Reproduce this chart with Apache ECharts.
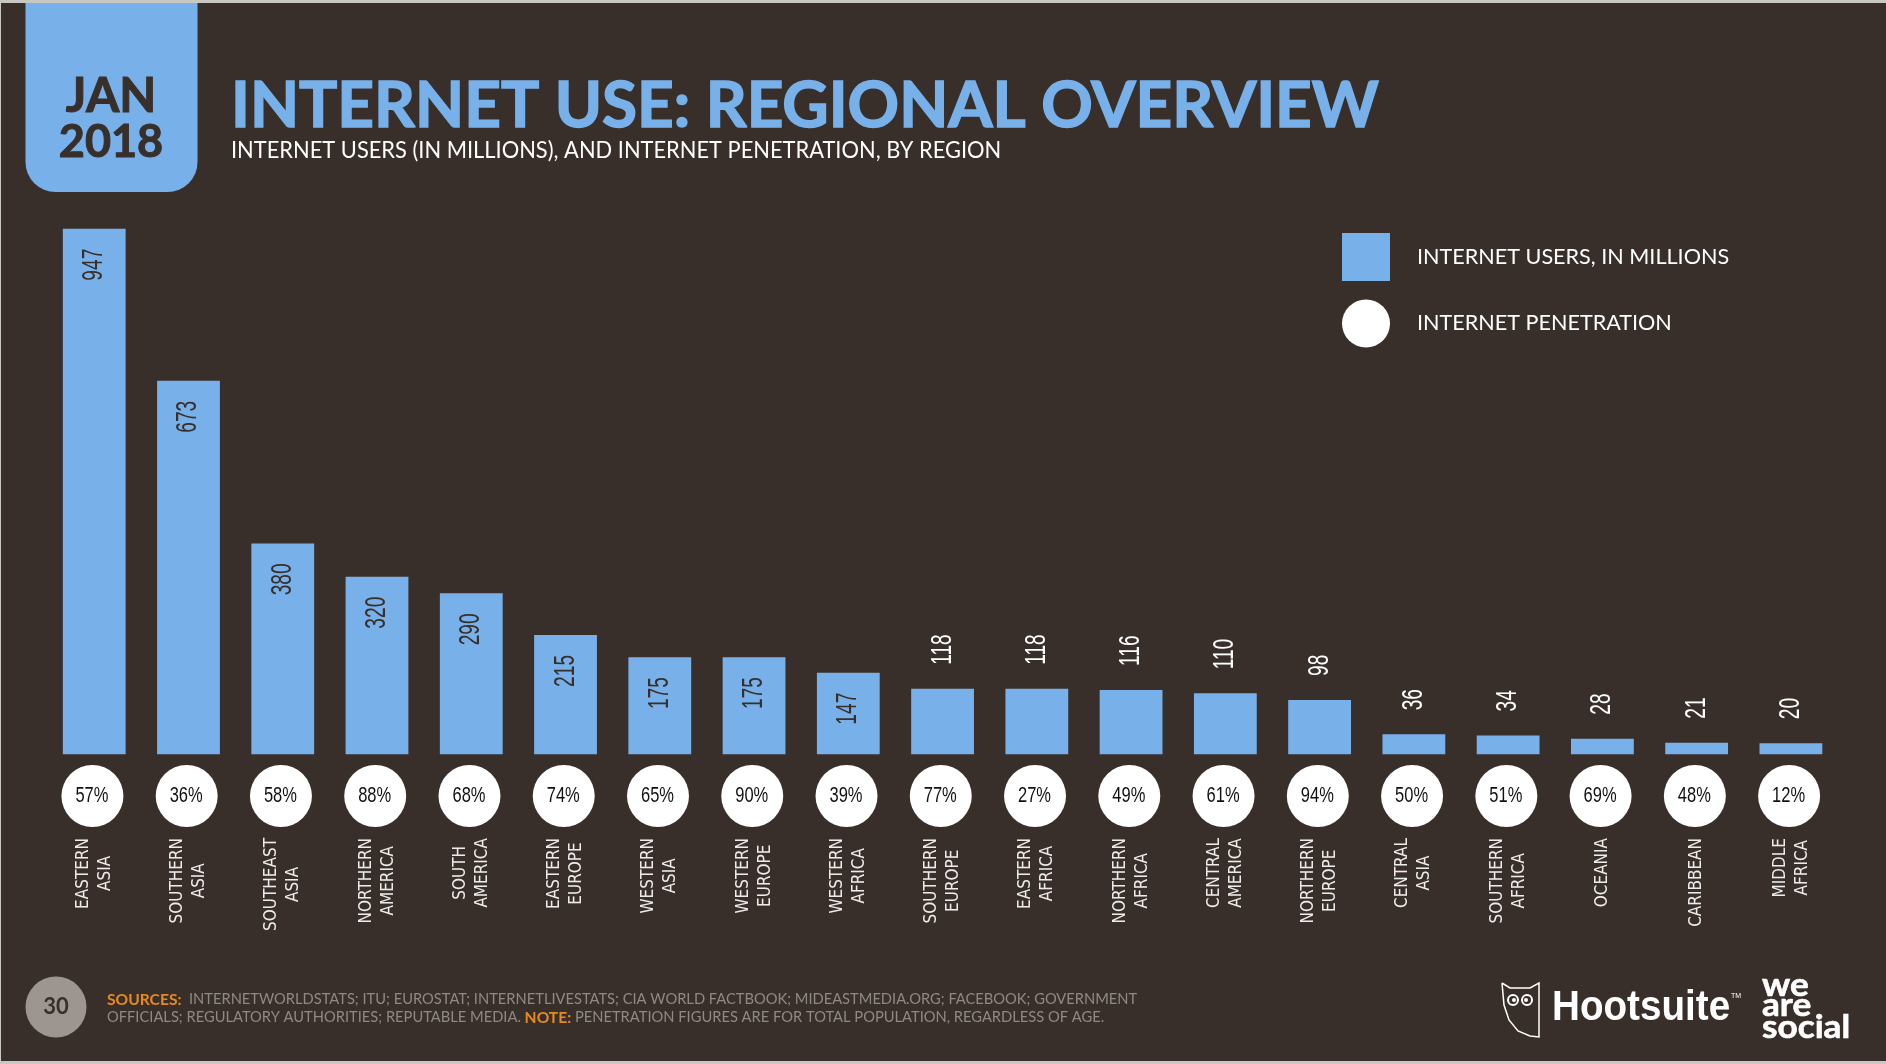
<!DOCTYPE html>
<html>
<head>
<meta charset="utf-8">
<title>Internet use: regional overview</title>
<style>
  html, body { margin: 0; padding: 0; background: #c9c7c2; }
  #chart { width: 1886px; height: 1064px; }
</style>
<script src="https://cdn.jsdelivr.net/npm/echarts@6/dist/echarts.min.js"></script>
</head>
<body>
<div id="chart"></div>
<script>
const regions = [
  'EASTERN\nASIA', 'SOUTHERN\nASIA', 'SOUTHEAST\nASIA', 'NORTHERN\nAMERICA', 'SOUTH\nAMERICA',
  'EASTERN\nEUROPE', 'WESTERN\nASIA', 'WESTERN\nEUROPE', 'WESTERN\nAFRICA', 'SOUTHERN\nEUROPE',
  'EASTERN\nAFRICA', 'NORTHERN\nAFRICA', 'CENTRAL\nAMERICA', 'NORTHERN\nEUROPE', 'CENTRAL\nASIA',
  'SOUTHERN\nAFRICA', 'OCEANIA', 'CARIBBEAN', 'MIDDLE\nAFRICA'
];
const users = [947, 673, 380, 320, 290, 215, 175, 175, 147, 118, 118, 116, 110, 98, 36, 34, 28, 21, 20];
const penetration = [57, 36, 58, 88, 68, 74, 65, 90, 39, 77, 27, 49, 61, 94, 50, 51, 69, 48, 12];

const BLUE = '#78b1ea';
const DARK = '#382f2b';
const ORANGE = '#e58a23';
const GREY = '#8f8983';
const BAND = 94.26;
// bars at least this tall carry their label inside
const INSIDE_FROM = 147;
// no condensed font installed, so numbers are squeezed along the reading direction
const NUMBER_FONT = '29px "Liberation Sans"';
const PERCENT_FONT = '22px "Liberation Sans"';

function renderUserLabel(params, api) {
  const value = api.value(1);
  const point = api.coord([api.value(0), value]);
  const inside = value >= INSIDE_FROM;
  return {
    type: 'text',
    x: point[0],
    y: point[1] + (inside ? 20 : -24),
    rotation: Math.PI / 2,
    scaleX: 0.66,
    style: {
      text: String(value),
      font: NUMBER_FONT,
      fill: inside ? DARK : '#fff',
      align: inside ? 'right' : 'left',
      verticalAlign: 'middle'
    }
  };
}

function renderPercentLabel(params, api) {
  const point = api.coord([api.value(0), api.value(1)]);
  return {
    type: 'text',
    x: point[0] - 2.5,
    y: point[1],
    scaleX: 0.75,
    style: {
      text: api.value(2) + '%',
      font: PERCENT_FONT,
      fill: '#111',
      align: 'center',
      verticalAlign: 'middle'
    }
  };
}

function staticText(x, y, text, font, fill, extra, scaleX) {
  return {
    type: 'text',
    x: x,
    y: y,
    scaleX: scaleX || 1,
    silent: true,
    style: Object.assign({ text: text, font: font, fill: fill, verticalAlign: 'middle' }, extra || {})
  };
}

const backdrop = [
  { type: 'rect', silent: true, z: -10, shape: { x: 1, y: 3, width: 1885, height: 1058 }, style: { fill: DARK } },
  { type: 'rect', silent: true, shape: { x: 25.5, y: 3, width: 172, height: 189, r: [0, 0, 30, 30] }, style: { fill: BLUE } },
  { type: 'circle', silent: true, shape: { cx: 56, cy: 1007, r: 30.5 }, style: { fill: '#9d9690' } }
];

const headerTexts = [
  staticText(111, 97, 'JAN', 'bold 48px Lato', DARK, { align: 'center', stroke: DARK, lineWidth: 1 }),
  staticText(111, 142, '2018', 'bold 45px Lato', DARK, { align: 'center', stroke: DARK, lineWidth: 1 }),
  staticText(231, 106, 'INTERNET USE: REGIONAL OVERVIEW', 'bold 63.8px Lato', BLUE, { stroke: BLUE, lineWidth: 1.5 }),
  staticText(231, 151, 'INTERNET USERS (IN MILLIONS), AND INTERNET PENETRATION, BY REGION', '23px Lato', '#fff', null, 0.95)
];

const footerTexts = [
  staticText(56, 1007, '30', 'bold 22px Lato', DARK, { align: 'center' }),
  staticText(107, 1008.5,
    '{o|SOURCES:}  INTERNETWORLDSTATS; ITU; EUROSTAT; INTERNETLIVESTATS; CIA WORLD FACTBOOK; MIDEASTMEDIA.ORG; FACEBOOK; GOVERNMENT\n' +
    'OFFICIALS; REGULATORY AUTHORITIES; REPUTABLE MEDIA. {o|NOTE:} PENETRATION FIGURES ARE FOR TOTAL POPULATION, REGARDLESS OF AGE.',
    '14.7px Lato', GREY,
    { lineHeight: 18, rich: { o: { font: 'bold 15.6px Lato', fill: ORANGE, lineHeight: 18 } } })
];

// owl outline and eyes of the Hootsuite mark
const logos = [
  {
    type: 'polyline',
    silent: true,
    shape: {
      points: [[1502, 983], [1510, 988], [1530, 988], [1539, 983], [1539, 1037], [1530, 1036], [1518, 1031], [1509, 1020], [1504, 1005], [1502, 983]]
    },
    style: { stroke: '#fff', lineWidth: 1.5, fill: 'none' }
  },
  { type: 'circle', silent: true, shape: { cx: 1513, cy: 1000, r: 5 }, style: { stroke: '#fff', lineWidth: 2, fill: 'none' } },
  { type: 'circle', silent: true, shape: { cx: 1527, cy: 1000, r: 5 }, style: { stroke: '#fff', lineWidth: 2, fill: 'none' } },
  { type: 'circle', silent: true, shape: { cx: 1514, cy: 1000, r: 2 }, style: { fill: '#fff' } },
  { type: 'circle', silent: true, shape: { cx: 1526, cy: 1000, r: 2 }, style: { fill: '#fff' } },
  staticText(1552, 1008, 'Hootsuite', 'bold 42px "Liberation Sans"', '#fff', null, 0.92),
  staticText(1731, 996, 'TM', '7px "Liberation Sans"', '#fff'),
  staticText(1762, 986, 'we', 'bold 32px Lato', '#fff', { stroke: '#fff', lineWidth: 0.6 }, 1.1),
  staticText(1762, 1006, 'are', 'bold 32px Lato', '#fff', { stroke: '#fff', lineWidth: 0.6 }, 1.1),
  staticText(1762, 1028, 'social', 'bold 32px Lato', '#fff', { stroke: '#fff', lineWidth: 0.6 }, 1.1)
];

const option = {
  animation: false,
  backgroundColor: '#c9c7c2',
  legend: {
    left: 1342,
    top: 233,
    orient: 'vertical',
    itemWidth: 48,
    itemHeight: 48,
    itemGap: 18.5,
    padding: 0,
    selectedMode: false,
    textStyle: { color: '#fff', fontFamily: 'Lato', fontSize: 21.6, padding: [3, 0, 0, 22] },
    data: [
      { name: 'INTERNET USERS, IN MILLIONS', icon: 'rect' },
      { name: 'INTERNET PENETRATION', icon: 'circle' }
    ]
  },
  grid: [
    { left: 47.1, top: 228.7, width: BAND * 19, height: 525.6 },
    { left: 47.3, top: 765, width: BAND * 19, height: 62 }
  ],
  xAxis: [
    {
      type: 'category',
      gridIndex: 0,
      data: regions,
      axisLine: { show: false },
      axisTick: { show: false },
      axisLabel: { show: false }
    },
    {
      type: 'category',
      gridIndex: 1,
      data: regions,
      axisLine: { show: false },
      axisTick: { show: false },
      axisLabel: {
        interval: 0,
        rotate: 90,
        margin: 11,
        formatter: function (value) {
          return value.split('\n').map(function (line) {
            return '{c|' + line + '}';
          }).join('\n');
        },
        rich: {
          c: { align: 'center', color: '#eeecea', fontFamily: '"DejaVu Sans Condensed", "Liberation Sans"', fontSize: 17, lineHeight: 22 }
        }
      }
    }
  ],
  yAxis: [
    { type: 'value', gridIndex: 0, min: 0, max: 947, show: false },
    { type: 'category', gridIndex: 1, data: ['penetration'], show: false }
  ],
  series: [
    {
      name: 'INTERNET USERS, IN MILLIONS',
      type: 'bar',
      xAxisIndex: 0,
      yAxisIndex: 0,
      barWidth: 62.8,
      itemStyle: { color: BLUE },
      data: users
    },
    {
      name: 'INTERNET PENETRATION',
      type: 'scatter',
      xAxisIndex: 1,
      yAxisIndex: 1,
      symbol: 'circle',
      symbolSize: 62,
      symbolOffset: [-2, 0],
      itemStyle: { color: '#fff', opacity: 1 },
      data: penetration.map(function (p, i) {
        return [i, 0];
      })
    },
    {
      name: 'user labels',
      type: 'custom',
      xAxisIndex: 0,
      yAxisIndex: 0,
      z: 5,
      clip: false,
      renderItem: renderUserLabel,
      encode: { x: 0, y: 1 },
      data: users.map(function (v, i) {
        return [i, v];
      })
    },
    {
      name: 'penetration labels',
      type: 'custom',
      xAxisIndex: 1,
      yAxisIndex: 1,
      z: 5,
      clip: false,
      renderItem: renderPercentLabel,
      encode: { x: 0, y: 1 },
      data: penetration.map(function (p, i) {
        return [i, 0, p];
      })
    }
  ],
  graphic: { elements: backdrop.concat(headerTexts, footerTexts, logos) }
};

const chart = echarts.init(document.getElementById('chart'));
chart.setOption(option);
</script>
</body>
</html>
